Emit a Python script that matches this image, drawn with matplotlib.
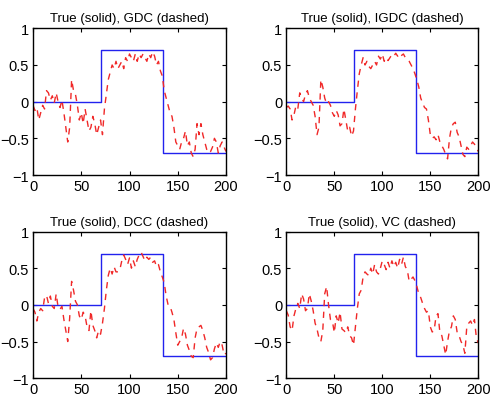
import matplotlib
matplotlib.use("Agg")
import matplotlib.pyplot as plt
import numpy as np

plt.rcParams['font.family'] = ['Liberation Sans', 'DejaVu Sans']

# samples every 2 steps, 0..200
t = np.arange(0, 201, 2)

# true signal breakpoints
true_x = [0, 70, 70, 135, 135, 200]
true_y = [0, 0, 0.7, 0.7, -0.7, -0.7]

gdc = [-0.05, -0.12, -0.08, -0.25, -0.15, -0.05, -0.1, 0.15, 0.12, 0.02,
       0.08, -0.02, 0.12, 0.0, -0.08, 0.02, -0.15, -0.35, -0.55, -0.35,
       0.3, 0.15, 0.1, -0.05, -0.25, -0.15, -0.3, -0.1, -0.25, -0.4,
       -0.35, -0.2, -0.3, -0.45, -0.35, -0.25, -0.45, -0.1, 0.1, 0.3,
       0.4, 0.5, 0.45, 0.55, 0.45, 0.5, 0.55, 0.45, 0.6, 0.55,
       0.65, 0.6, 0.55, 0.65, 0.55, 0.65, 0.6, 0.65, 0.6, 0.55,
       0.65, 0.6, 0.68, 0.62, 0.5, 0.55, 0.42, 0.35, 0.15, 0.05,
       -0.05, -0.15, -0.2, -0.35, -0.55, -0.6, -0.65, -0.55, -0.5, -0.4,
       -0.6, -0.55, -0.7, -0.75, -0.65, -0.3, -0.45, -0.3, -0.45, -0.55,
       -0.65, -0.7, -0.68, -0.62, -0.5, -0.55, -0.7, -0.6, -0.55, -0.62,
       -0.68]

igdc = [-0.08, -0.06, -0.1, -0.25, -0.18, -0.06, -0.1, 0.12, 0.05, 0.0,
        0.1, 0.15, 0.05, 0.0, -0.05, -0.2, -0.45, -0.35, 0.3, 0.2,
        0.05, -0.03, 0.0, -0.05, -0.15, -0.2, -0.12, -0.18, -0.33, -0.3,
        -0.1, -0.25, -0.4, -0.35, -0.47, -0.4, -0.1, 0.15, 0.38, 0.5,
        0.6, 0.5, 0.55, 0.48, 0.45, 0.5, 0.55, 0.5, 0.62, 0.58,
        0.65, 0.55, 0.6, 0.56, 0.6, 0.64, 0.62, 0.66, 0.62, 0.66,
        0.63, 0.65, 0.6, 0.58, 0.55, 0.5, 0.45, 0.38, 0.3, 0.2,
        0.05, -0.02, -0.08, -0.1, -0.25, -0.45, -0.5, -0.48, -0.52, -0.45,
        -0.55, -0.6, -0.65, -0.72, -0.78, -0.5, -0.35, -0.3, -0.28, -0.42,
        -0.48, -0.6, -0.72, -0.75, -0.62, -0.65, -0.6, -0.55, -0.58, -0.62,
        -0.68]

dcc = [-0.05, -0.1, -0.22, -0.1, -0.05, -0.08, 0.1, 0.13, 0.02, 0.12,
       -0.02, -0.05, 0.15, -0.03, -0.06, -0.02, -0.2, -0.35, -0.5, -0.18,
       0.32, 0.2, 0.05, 0.0, -0.15, -0.2, -0.1, -0.15, -0.3, -0.35,
       -0.08, -0.28, -0.35, -0.45, -0.35, -0.4, -0.25, -0.05, 0.2, 0.4,
       0.5, 0.42, 0.52, 0.45, 0.45, 0.48, 0.6, 0.68, 0.62, 0.55,
       0.64, 0.5, 0.6, 0.52, 0.62, 0.68, 0.72, 0.66, 0.6, 0.65,
       0.62, 0.65, 0.58, 0.6, 0.52, 0.55, 0.45, 0.38, 0.3, 0.12,
       0.0, -0.02, -0.1, -0.2, -0.38, -0.55, -0.5, -0.45, -0.32, -0.4,
       -0.55, -0.62, -0.7, -0.72, -0.45, -0.32, -0.3, -0.28, -0.35, -0.45,
       -0.58, -0.65, -0.75, -0.72, -0.6, -0.52, -0.58, -0.5, -0.55, -0.68,
       -0.66]

vc = [-0.08, -0.14, -0.3, -0.35, -0.15, -0.05, 0.02, -0.05, 0.15, 0.08,
      -0.08, -0.05, 0.15, 0.05, -0.08, -0.25, -0.33, -0.45, -0.5, -0.35,
      0.15, 0.25, 0.0, -0.2, -0.22, -0.38, -0.15, -0.25, -0.1, -0.33,
      -0.35, -0.38, -0.3, -0.42, -0.45, -0.55, -0.3, -0.05, 0.15, 0.2,
      0.38, 0.45, 0.42, 0.4, 0.5, 0.42, 0.55, 0.45, 0.42, 0.5,
      0.6, 0.55, 0.48, 0.58, 0.5, 0.6, 0.52, 0.58, 0.5, 0.62,
      0.55, 0.65, 0.52, 0.48, 0.32, 0.35, 0.38, 0.33, 0.25, 0.15,
      0.1, 0.02, -0.05, -0.1, -0.08, -0.3, -0.37, -0.35, -0.15, -0.12,
      -0.38, -0.42, -0.55, -0.68, -0.5, -0.35, -0.3, -0.15, -0.2, -0.38,
      -0.42, -0.5, -0.55, -0.66, -0.3, -0.25, -0.22, -0.28, -0.2, -0.45,
      -0.52]

titles = ['True (solid), GDC (dashed)', 'True (solid), IGDC (dashed)',
          'True (solid), DCC (dashed)', 'True (solid), VC (dashed)']
estimates = [gdc, igdc, dcc, vc]

W, H = 493, 406
fig = plt.figure(figsize=(W / 100, H / 100), dpi=100)
# axes boxes in pixels: left, top, right, bottom
boxes = [(33, 29.3, 226, 176), (286.3, 29.3, 478.3, 176),
         (33, 232.5, 226, 379.2), (286.3, 232.5, 478.3, 379.2)]

for box, title, est in zip(boxes, titles, estimates):
    l, tp, r, b = box
    ax = fig.add_axes([l / W, 1 - b / H, (r - l) / W, (b - tp) / H])
    ax.plot(true_x, true_y, color='#2222ee', lw=1.0)
    ax.plot(t, est, color='#f02828', lw=1.0, dashes=(4.5, 4))
    ax.set_xlim(0, 200)
    ax.set_ylim(-1, 1)
    ax.set_xticks([0, 50, 100, 150, 200])
    ax.set_yticks([-1, -0.5, 0, 0.5, 1])
    ax.set_yticklabels(['\u22121', '\u22120.5', '0', '0.5', '1'])
    ax.tick_params(direction='in', length=3, width=0.8, top=True, right=True,
                   labelsize=10.5, pad=3)
    for s in ax.spines.values():
        s.set_linewidth(1.0)
    ax.set_title(title, fontsize=9.5, pad=5)

fig.savefig('out.png', dpi=100)
